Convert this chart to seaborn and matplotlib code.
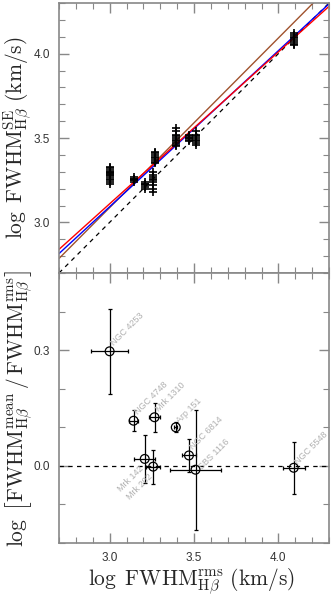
import numpy as np
import pandas as pd
import matplotlib
matplotlib.use("Agg")
import matplotlib.pyplot as plt
import seaborn as sns
from matplotlib.ticker import MultipleLocator, FormatStrFormatter

# ---------------- data ----------------
objects = ["NGC 4253", "NGC 4748", "Mrk 142", "Mrk 202", "Mrk 1310",
           "Arp 151", "NGC 6814", "SBS 1116", "NGC 5548"]
log_fwhm_rms = [3.000, 3.142, 3.208, 3.258, 3.266, 3.392, 3.470, 3.509, 4.091]
log_fwhm_rms_err = [0.110, 0.025, 0.063, 0.040, 0.030, 0.010, 0.040, 0.152, 0.066]
log_ratio = [0.297, 0.117, 0.018, -0.002, 0.126, 0.100, 0.027, -0.010, -0.005]
log_ratio_err = [0.110, 0.027, 0.062, 0.044, 0.037, 0.013, 0.043, 0.155, 0.067]

# single-epoch FWHM measurements for each object (top panel)
se_ngc4253 = [3.33, 3.32, 3.31, 3.30, 3.30, 3.29, 3.29, 3.28, 3.28, 3.27, 3.26, 3.25, 3.24, 3.23]
se_ngc4748 = [3.27, 3.26, 3.26, 3.25, 3.25, 3.24]
se_mrk142 = [3.24, 3.23, 3.23, 3.22, 3.21, 3.20]
se_mrk202 = [3.30, 3.28, 3.27, 3.26, 3.25, 3.24, 3.22, 3.20, 3.18]
se_mrk1310 = [3.42, 3.41, 3.40, 3.39, 3.38, 3.37, 3.36, 3.35]
se_arp151 = [3.56, 3.54, 3.52, 3.51, 3.50, 3.49, 3.48, 3.47, 3.46, 3.45]
se_ngc6814 = [3.52, 3.51, 3.50, 3.50, 3.49, 3.48]
se_sbs1116 = [3.54, 3.52, 3.51, 3.50, 3.49, 3.48, 3.47, 3.46]
se_ngc5548 = [4.12, 4.11, 4.10, 4.09, 4.08, 4.07, 4.06, 4.05]
se_values = [se_ngc4253, se_ngc4748, se_mrk142, se_mrk202, se_mrk1310,
             se_arp151, se_ngc6814, se_sbs1116, se_ngc5548]

# fitted relations: slope, intercept
fit_slopes = [1.005, 0.925, 0.900]
fit_intercepts = [0.0725, 0.3175, 0.410]
fit_colors = ["#a0522d", "#0000ff", "#ff0000"]

# label placements: (dx, dy) in points, alignment
label_off = {"NGC 4253": (4, 3, "left"), "NGC 4748": (4, 3, "left"),
             "Mrk 142": (-4, -4, "right"), "Mrk 202": (-4, -4, "right"),
             "Mrk 1310": (4, 3, "left"), "Arp 151": (4, 2, "left"),
             "NGC 6814": (4, 3, "left"), "SBS 1116": (6, -1, "left"),
             "NGC 5548": (4, 1, "left")}

# ---------------- figure ----------------
sns.set_style("ticks")
plt.rcParams["font.family"] = ["Liberation Sans", "DejaVu Sans"]
plt.rcParams["mathtext.fontset"] = "cm"

W, H = 332, 598
fig = plt.figure(figsize=(W / 100, H / 100), dpi=100)
left, right = 59 / W, 329 / W
ax1 = fig.add_axes([left, 1 - 273 / H, right - left, 270 / H])
ax2 = fig.add_axes([left, 1 - 543 / H, right - left, 270 / H])

xlim = (2.7, 4.3)
LABEL_FS = 15.5

rows = []
for obj, xr, ys in zip(objects, log_fwhm_rms, se_values):
    for y in ys:
        rows.append({"obj": obj, "x": xr, "y": y})
df_se = pd.DataFrame(rows)

# top panel
xs = np.array(xlim)
sns.lineplot(x=xs, y=xs, ax=ax1, color="black", lw=0.9, linestyle=(0, (3.5, 3.5)))
for s, b, c in zip(fit_slopes, fit_intercepts, fit_colors):
    sns.lineplot(x=xs, y=s * xs + b, ax=ax1, color=c, lw=1.0)
sns.scatterplot(data=df_se, x="x", y="y", ax=ax1, marker="+", s=40,
                color="black", linewidth=1.2, zorder=5)
ax1.set_xlim(*xlim)
ax1.set_ylim(2.7, 4.3)
ax1.set_xlabel("")
ax1.set_ylabel(r"$\log\ \mathrm{FWHM}_{\mathrm{H}\beta}^{\mathrm{SE}}\ (\mathrm{km/s})$",
               fontsize=LABEL_FS)
ax1.tick_params(labelbottom=False)
ax1.yaxis.set_major_locator(MultipleLocator(0.5))
ax1.yaxis.set_minor_locator(MultipleLocator(0.1))

# bottom panel
df_r = pd.DataFrame({"obj": objects, "x": log_fwhm_rms, "y": log_ratio,
                     "xerr": log_fwhm_rms_err, "yerr": log_ratio_err})
ax2.axhline(0, color="black", lw=0.9, linestyle=(0, (3.5, 3.5)))
ax2.errorbar(df_r["x"], df_r["y"], xerr=df_r["xerr"], yerr=df_r["yerr"],
             fmt="none", ecolor="black", elinewidth=0.9, capsize=1.5, capthick=0.9)
sns.scatterplot(data=df_r, x="x", y="y", ax=ax2, marker="o", s=40,
                facecolor="none", edgecolor="black", linewidth=0.9, zorder=5)
for obj, x, y in zip(objects, log_fwhm_rms, log_ratio):
    dx, dy, ha = label_off[obj]
    ax2.annotate(obj, (x, y), xytext=(dx, dy), textcoords="offset points",
                 rotation=45, rotation_mode="anchor", ha=ha,
                 va="bottom" if ha == "left" else "top",
                 fontsize=6.5, color="#b0b0b0", clip_on=True,
                 annotation_clip=False)
ax2.set_xlim(*xlim)
ax2.set_ylim(-0.2, 0.5)
ax2.set_xlabel(r"$\log\ \mathrm{FWHM}_{\mathrm{H}\beta}^{\mathrm{rms}}\ (\mathrm{km/s})$",
               fontsize=LABEL_FS)
ax2.set_ylabel(r"$\log\ \left[\mathrm{FWHM}_{\mathrm{H}\beta}^{\mathrm{mean}}\,/\,"
               r"\mathrm{FWHM}_{\mathrm{H}\beta}^{\mathrm{rms}}\right]$", fontsize=LABEL_FS)
ax2.yaxis.set_major_locator(MultipleLocator(0.3))
ax2.yaxis.set_minor_locator(MultipleLocator(0.1))

for ax in (ax1, ax2):
    ax.xaxis.set_major_locator(MultipleLocator(0.5))
    ax.xaxis.set_minor_locator(MultipleLocator(0.1))
    ax.xaxis.set_major_formatter(FormatStrFormatter("%.1f"))
    ax.yaxis.set_major_formatter(FormatStrFormatter("%.1f"))
    for sp in ax.spines.values():
        sp.set_visible(True)
        sp.set_color("#888888")
        sp.set_linewidth(1.2)
    ax.tick_params(which="both", direction="in", top=True, right=True,
                   color="#888888", labelsize=8.5, labelcolor="#333333")
    ax.tick_params(which="major", length=7, width=1.0, pad=6.5)
    ax.tick_params(which="minor", length=4, width=0.8)
    ax.yaxis.set_label_coords(-0.09, 0.5)

ax2.xaxis.set_label_coords(0.49, -0.088)

fig.savefig("out.png", dpi=100)
